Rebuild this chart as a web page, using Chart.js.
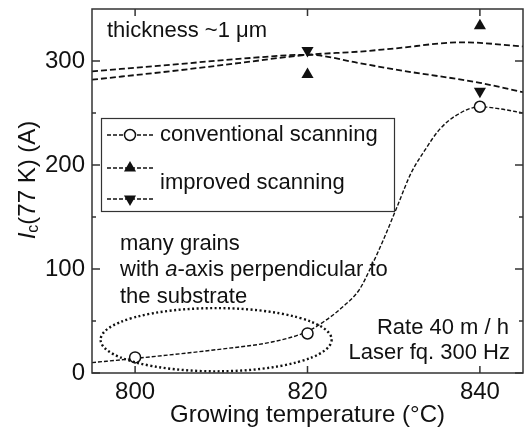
<!DOCTYPE html>
<html>
<head>
<meta charset="utf-8">
<script src="https://cdn.jsdelivr.net/npm/chart.js@4.4.0/dist/chart.umd.min.js"></script>
<style>
  body { margin: 0; background: #fff; }
  #wrap { width: 524px; height: 430px; }
</style>
</head>
<body>
<div id="wrap"><canvas id="chart"></canvas></div>
<script>
// measured points
const convT = [800, 820, 840];
const convIc = [15, 38, 256];
const upT = [820, 840];
const upIc = [287, 334];
const downT = [820, 840];
const downIc = [310, 271];

// guide curves
const convFitT = [795, 800, 810, 816, 820, 822, 824, 826, 827.2, 828.8, 830.4, 832, 833.6, 835.3, 837.3, 840, 842.3, 845];
const convFitIc = [10, 14, 23, 30, 40, 50, 63, 80, 99, 128, 160, 192, 214, 234, 248, 256, 254, 250];
const upFitT = [795, 805, 812, 820, 826, 830, 838, 845];
const upFitIc = [282, 291, 298, 306, 309, 312, 318, 314];
const downFitT = [795, 805, 812, 820, 826, 830, 840, 845];
const downFitIc = [290, 297, 302, 306, 298, 292, 279, 270];

const xTicks = [800, 820, 840];
const yTicks = [0, 100, 200, 300];
const yMinor = [50, 150, 250];

// dotted ellipse around the low temperature points (data units)
const ringCenter = [809.4, 32];
const ringRadius = [13.4, 30.4];

const FONT = "'Liberation Sans', Arial, sans-serif";
const pts = (xs, ys) => xs.map((v, i) => ({ x: v, y: ys[i] }));

function triangle(ctx, x, y, r, down) {
  const s = down ? -1 : 1;
  ctx.beginPath();
  ctx.moveTo(x, y - s * r);
  ctx.lineTo(x + r * 0.866, y + s * r / 2);
  ctx.lineTo(x - r * 0.866, y + s * r / 2);
  ctx.closePath();
  ctx.fill();
}

const decor = {
  id: "decor",
  afterDraw(chart) {
    const { ctx, chartArea: a, scales } = chart;
    const x = scales.x, y = scales.y;
    ctx.save();

    // ellipse
    ctx.save();
    ctx.beginPath();
    ctx.rect(a.left, a.top, a.right - a.left, a.bottom - a.top);
    ctx.clip();
    const cx = x.getPixelForValue(ringCenter[0]);
    const cy = y.getPixelForValue(ringCenter[1]);
    const rx = x.getPixelForValue(ringCenter[0] + ringRadius[0]) - cx;
    const ry = cy - y.getPixelForValue(ringCenter[1] + ringRadius[1]);
    ctx.beginPath();
    ctx.setLineDash([2, 2.5]);
    ctx.lineWidth = 2.4;
    ctx.strokeStyle = "#111";
    ctx.ellipse(cx, cy, rx, ry, 0, 0, Math.PI * 2);
    ctx.stroke();
    ctx.restore();

    // frame + inward ticks
    ctx.setLineDash([]);
    ctx.strokeStyle = "#333";
    ctx.lineWidth = 1.5;
    ctx.strokeRect(a.left, a.top, a.right - a.left, a.bottom - a.top);
    ctx.beginPath();
    xTicks.forEach(v => {
      const px = x.getPixelForValue(v);
      ctx.moveTo(px, a.bottom); ctx.lineTo(px, a.bottom - 7);
      ctx.moveTo(px, a.top); ctx.lineTo(px, a.top + 7);
    });
    yTicks.forEach(v => {
      const py = y.getPixelForValue(v);
      ctx.moveTo(a.left, py); ctx.lineTo(a.left + 8, py);
      ctx.moveTo(a.right, py); ctx.lineTo(a.right - 8, py);
    });
    yMinor.forEach(v => {
      const py = y.getPixelForValue(v);
      ctx.moveTo(a.left, py); ctx.lineTo(a.left + 4, py);
      ctx.moveTo(a.right, py); ctx.lineTo(a.right - 4, py);
    });
    ctx.stroke();

    // legend box
    ctx.fillStyle = "#fff";
    ctx.fillRect(101.5, 118.5, 293, 93);
    ctx.lineWidth = 1.2;
    ctx.strokeRect(101.5, 118.5, 293, 93);
    ctx.strokeStyle = "#111";
    ctx.fillStyle = "#111";
    ctx.lineWidth = 1.5;
    ctx.setLineDash([4, 2]);
    [135, 168, 199].forEach(ly => {
      ctx.beginPath(); ctx.moveTo(107, ly); ctx.lineTo(153, ly); ctx.stroke();
    });
    ctx.setLineDash([]);
    ctx.beginPath();
    ctx.arc(130, 135, 5.5, 0, Math.PI * 2);
    ctx.fillStyle = "#fff"; ctx.fill(); ctx.stroke();
    ctx.fillStyle = "#111";
    triangle(ctx, 130, 168, 7, false);
    triangle(ctx, 130, 199, 7, true);

    ctx.textBaseline = "middle";
    ctx.textAlign = "left";
    ctx.font = "22px " + FONT;
    ctx.fillText("conventional scanning", 160, 135);
    ctx.fillText("improved scanning", 160, 183);

    // annotations
    ctx.fillText("thickness ~1 \u03bcm", 107, 31);
    ctx.fillText("many grains", 120, 244);
    let tx = 120;
    ctx.fillText("with ", tx, 270); tx += ctx.measureText("with ").width;
    ctx.font = "italic 22px " + FONT;
    ctx.fillText("a", tx, 270); tx += ctx.measureText("a").width;
    ctx.font = "22px " + FONT;
    ctx.fillText("-axis perpendicular to", tx, 270);
    ctx.fillText("the substrate", 120, 297);
    ctx.textAlign = "right";
    ctx.fillText("Rate 40 m / h", 509, 328);
    ctx.fillText("Laser fq. 300 Hz", 510, 353);

    // y title
    ctx.translate(28, 180);
    ctx.rotate(-Math.PI / 2);
    ctx.textAlign = "left";
    const p1 = "I", p2 = "c", p3 = "(77 K) (A)";
    ctx.font = "italic 24px " + FONT; const w1 = ctx.measureText(p1).width;
    ctx.font = "16px " + FONT; const w2 = ctx.measureText(p2).width;
    ctx.font = "24px " + FONT; const w3 = ctx.measureText(p3).width;
    let sx = -(w1 + w2 + w3) / 2;
    ctx.font = "italic 24px " + FONT; ctx.fillText(p1, sx, 0); sx += w1;
    ctx.font = "16px " + FONT; ctx.fillText(p2, sx, 6); sx += w2;
    ctx.font = "24px " + FONT; ctx.fillText(p3, sx, 0);

    ctx.restore();
  }
};

new Chart(document.getElementById("chart"), {
  type: "scatter",
  data: {
    datasets: [
      {
        label: "conventional scanning",
        data: pts(convT, convIc),
        pointStyle: "circle",
        pointRadius: 5.5,
        pointBackgroundColor: "#fff",
        pointBorderColor: "#111",
        pointBorderWidth: 1.5,
      },
      {
        label: "improved scanning (up)",
        data: pts(upT, upIc),
        pointStyle: "triangle",
        pointRadius: 7,
        pointBackgroundColor: "#111",
        pointBorderColor: "#111",
        pointBorderWidth: 0,
      },
      {
        label: "improved scanning (down)",
        data: pts(downT, downIc),
        pointStyle: "triangle",
        rotation: 180,
        pointRadius: 7,
        pointBackgroundColor: "#111",
        pointBorderColor: "#111",
        pointBorderWidth: 0,
      },
      {
        data: pts(convFitT, convFitIc),
        showLine: true,
        pointRadius: 0,
        borderColor: "#111",
        borderWidth: 1.4,
        borderDash: [4, 2],
        cubicInterpolationMode: "monotone",
      },
      {
        data: pts(upFitT, upFitIc),
        showLine: true,
        pointRadius: 0,
        borderColor: "#111",
        borderWidth: 1.8,
        borderDash: [6, 3],
        cubicInterpolationMode: "monotone",
      },
      {
        data: pts(downFitT, downFitIc),
        showLine: true,
        pointRadius: 0,
        borderColor: "#111",
        borderWidth: 1.8,
        borderDash: [6, 3],
        cubicInterpolationMode: "monotone",
      },
    ],
  },
  options: {
    responsive: true,
    maintainAspectRatio: false,
    animation: false,
    layout: { autoPadding: false, padding: { top: 9, right: 1, left: 0, bottom: 0 } },
    plugins: { legend: { display: false }, tooltip: { enabled: false } },
    scales: {
      x: {
        type: "linear",
        min: 795,
        max: 845,
        afterBuildTicks: s => { s.ticks = xTicks.map(v => ({ value: v })); },
        afterFit: s => { s.height = 57; s.paddingLeft = 0; s.paddingRight = 0; },
        grid: { display: false, drawTicks: false },
        border: { display: false },
        ticks: { font: { family: FONT, size: 24 }, color: "#111", padding: 5 },
        title: {
          display: true,
          text: "Growing temperature (\u00b0C)",
          font: { family: FONT, size: 24 },
          color: "#111",
          padding: { top: 0, bottom: 0 },
        },
      },
      y: {
        min: 0,
        max: 350,
        afterBuildTicks: s => { s.ticks = yTicks.map(v => ({ value: v })); },
        afterFit: s => { s.width = 92; s.paddingTop = 0; s.paddingBottom = 0; },
        grid: { display: false, drawTicks: false },
        border: { display: false },
        ticks: { font: { family: FONT, size: 24 }, color: "#111", padding: 7 },
      },
    },
  },
  plugins: [decor],
});
</script>
</body>
</html>
